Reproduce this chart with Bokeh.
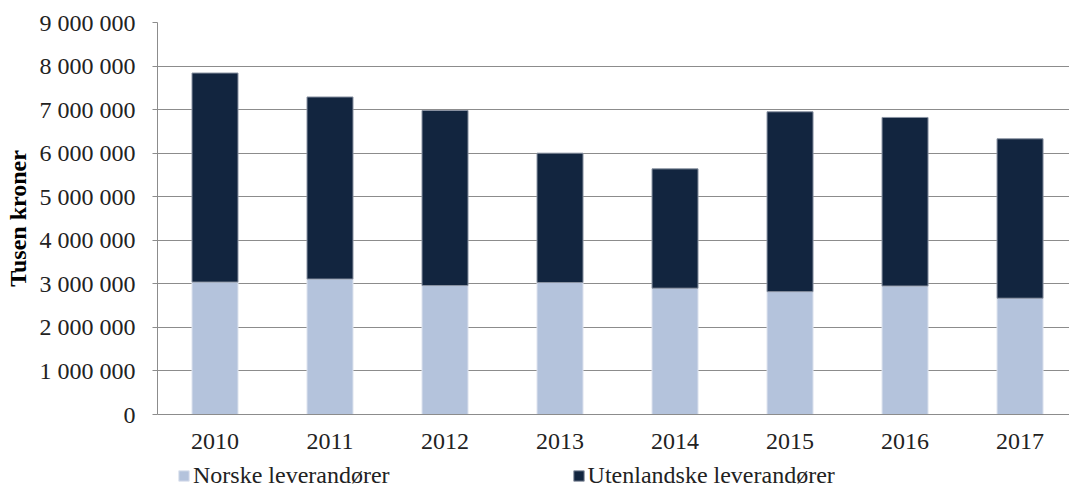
from bokeh.plotting import figure
from bokeh.layouts import column
from bokeh.models import Range1d, FixedTicker, Legend, LegendItem, CustomJSTickFormatter
from bokeh.embed import file_html
from bokeh.resources import INLINE

years = ["2010", "2011", "2012", "2013", "2014", "2015", "2016", "2017"]
norske = [3040000, 3110000, 2960000, 3030000, 2900000, 2820000, 2950000, 2670000]
totals = [7840000, 7290000, 6980000, 6000000, 5640000, 6950000, 6820000, 6330000]
utenlandske = [t - n for t, n in zip(totals, norske)]
y_ticks = [0, 1000000, 2000000, 3000000, 4000000, 5000000, 6000000, 7000000, 8000000, 9000000]
series_names = ["Norske leverandører", "Utenlandske leverandører"]

LIGHT = "#B4C3DC"
DARK = "#12253F"
FONT = "Liberation Serif"
FS = "24px"

xpos = [i + 0.5 for i in range(len(years))]
data = dict(x=xpos, bottom0=[0] * len(years), top0=norske,
            bottom1=norske, top1=[n + u for n, u in zip(norske, utenlandske)])

p = figure(width=1069, height=460, output_backend="svg", toolbar_location=None,
           x_range=Range1d(0, 7.93), y_range=Range1d(0, 9000000),
           min_border_left=157, min_border_top=22, min_border_right=0, min_border_bottom=46)
p.outline_line_color = None
p.background_fill_color = "white"

r1 = p.vbar(x="x", bottom="bottom0", top="top0", width=0.4, source=data,
            fill_color=LIGHT, line_color="#dde3ee", line_width=1)
r2 = p.vbar(x="x", bottom="bottom1", top="top1", width=0.4, source=data,
            fill_color=DARK, line_color="#8a93a3", line_width=1)

# y axis
p.yaxis.ticker = FixedTicker(ticks=y_ticks)
p.yaxis.formatter = CustomJSTickFormatter(code="""
    return Math.round(tick).toString().replace(/\\B(?=(\\d{3})+(?!\\d))/g, ' ');
""")
p.yaxis.axis_label = "Tusen kroner"
p.yaxis.axis_label_text_font = FONT
p.yaxis.axis_label_text_font_style = "bold"
p.yaxis.axis_label_text_font_size = FS
p.yaxis.axis_label_text_color = "black"
p.yaxis.axis_label_standoff = 6
p.yaxis.major_label_text_font = FONT
p.yaxis.major_label_text_font_size = FS
p.yaxis.major_label_text_color = "#222222"
p.yaxis.major_label_standoff = 17
p.yaxis.major_tick_out = 5
p.yaxis.major_tick_in = 0
p.yaxis.minor_tick_line_color = None
p.yaxis.axis_line_color = "#8c8c8c"
p.yaxis.major_tick_line_color = "#8c8c8c"

# x axis
p.xaxis.ticker = FixedTicker(ticks=xpos)
p.xaxis.major_label_overrides = {x: y for x, y in zip(xpos, years)}
p.xaxis.major_label_text_font = FONT
p.xaxis.major_label_text_font_size = FS
p.xaxis.major_label_text_color = "#222222"
p.xaxis.major_label_standoff = 13
p.xaxis.major_tick_line_color = None
p.xaxis.minor_tick_line_color = None
p.xaxis.axis_line_color = "#8c8c8c"

p.xgrid.grid_line_color = None
p.ygrid.ticker = FixedTicker(ticks=y_ticks)
p.ygrid.grid_line_color = "#8c8c8c"
p.ygrid.grid_line_width = 1

# legend row (separate strip under the chart)
lg = figure(width=1069, height=29, output_backend="svg", toolbar_location=None,
            x_range=Range1d(0, 1), y_range=Range1d(0, 1),
            min_border_left=157, min_border_top=0, min_border_right=0, min_border_bottom=0)
lg.outline_line_color = None
lg.axis.visible = False
lg.grid.visible = False
d1 = lg.vbar(x=[-5], bottom=[0], top=[0], width=0.1, fill_color=LIGHT, line_color="#dde3ee")
d2 = lg.vbar(x=[-5], bottom=[0], top=[0], width=0.1, fill_color=DARK, line_color="#8a93a3")
legend = Legend(items=[LegendItem(label=series_names[0], renderers=[d1]),
                       LegendItem(label=series_names[1], renderers=[d2])],
                orientation="horizontal", location=(20, 0),
                glyph_width=13, glyph_height=13, label_standoff=3, spacing=182,
                padding=0, margin=0, border_line_color=None, background_fill_alpha=0,
                label_text_font=FONT, label_text_font_size=FS, label_text_color="#222222")
lg.add_layout(legend, "center")

layout = column(p, lg, spacing=0)
open("out.html", "w").write(file_html(layout, INLINE))
